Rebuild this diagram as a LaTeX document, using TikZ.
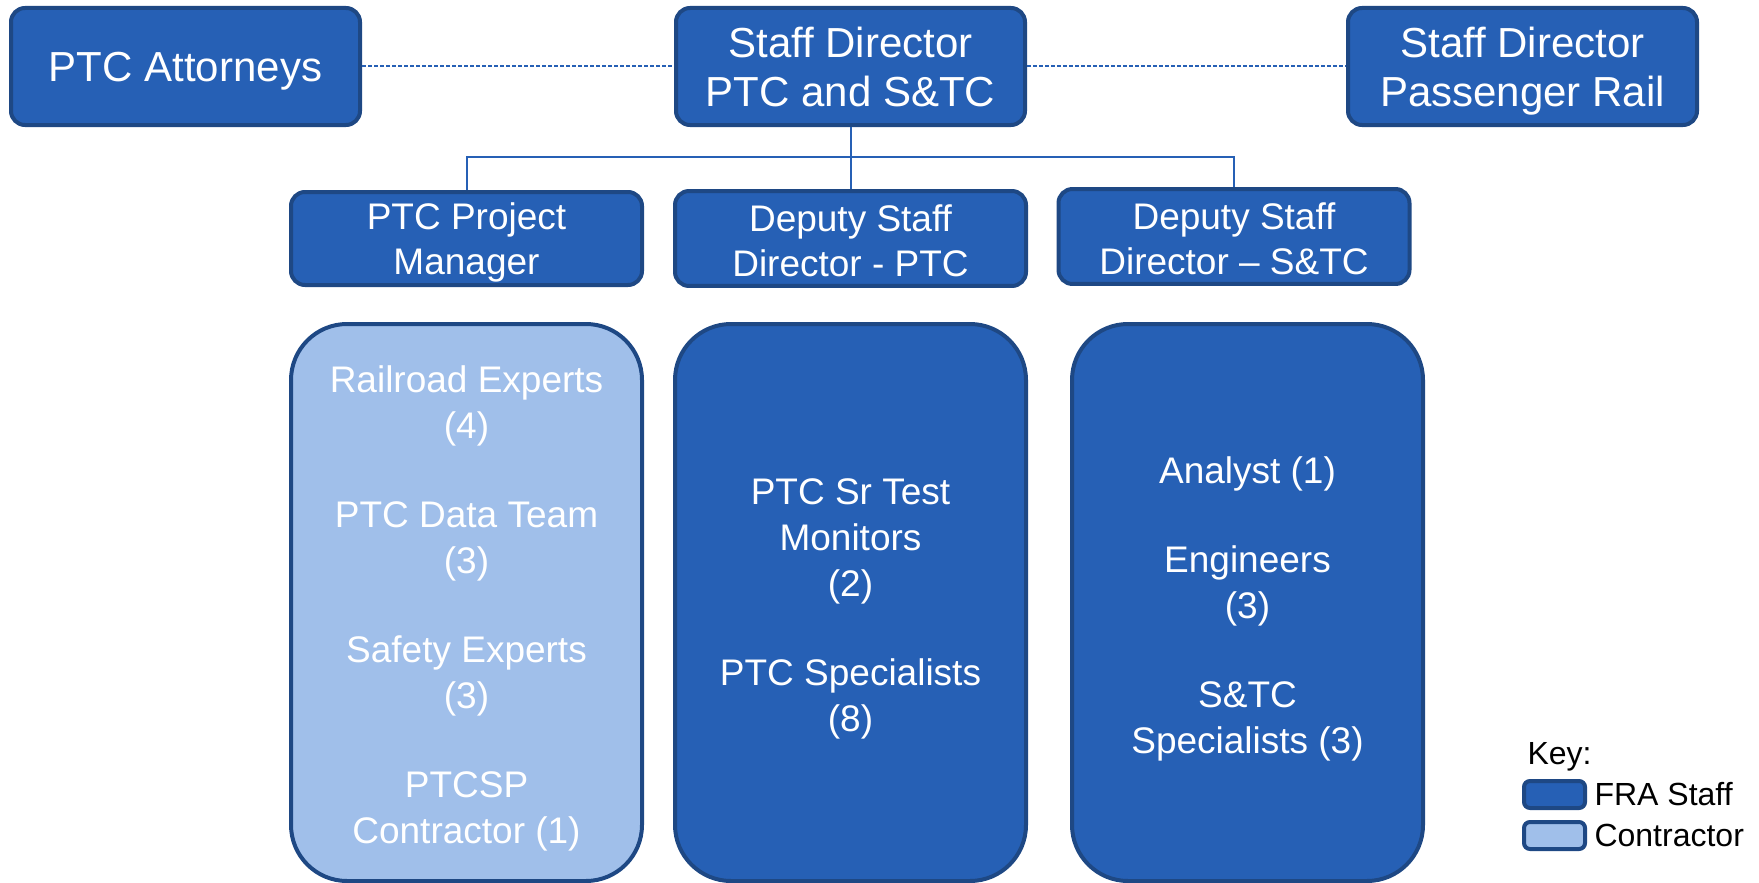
\documentclass[tikz,border=0pt]{standalone}
\usepackage{fontspec}
\setmainfont{Liberation Sans}
\usepackage{tikz}
\definecolor{frablue}{RGB}{38,96,181}
\definecolor{fraedge}{RGB}{30,72,132}
\definecolor{contrblue}{RGB}{160,191,234}
\newcommand\topstrut[1][1.1em]{\rule{0pt}{#1}}
\newcommand\botstrut{\rule[-0.25em]{0pt}{0pt}}

\begin{document}
\begin{tikzpicture}[x=1pt,y=-1pt,
	box/.style={rectangle,draw=fraedge,line width=4pt,fill=frablue,text=white,align=center,inner sep=0pt,
		execute at end node=\botstrut},
	head/.style={box,rounded corners=14pt,minimum width=349pt,minimum height=117pt,font=\fontsize{42}{49}\selectfont},
	sub/.style={box,rounded corners=14pt,minimum width=351pt,minimum height=93pt,font=\fontsize{37}{45}\selectfont},
	team/.style={box,rounded corners=56pt,minimum width=351pt,minimum height=557pt,font=\fontsize{37}{46}\selectfont},
	swatch/.style={box,rounded corners=6pt,minimum width=61pt,minimum height=27pt},
	link/.style={draw=frablue,line width=2pt},
	dotline/.style={draw=frablue,line width=2pt,dash pattern=on 4pt off 2pt}]
	\useasboundingbox (0,0) rectangle (1759,883);
	\draw
		(185.5,66.5) node[head](att) {\topstrut[0.96em]PTC Attorneys}
		(850.5,66.5) node[head](sdir) {\topstrut[0.98em]Staff Director\\PTC and S\&TC}
		(1522.5,66.5) node[head](pax) {\topstrut[0.98em]Staff Director\\Passenger Rail}
		(466.5,238.5) node[sub](pm) {\topstrut[1.0em]PTC Project\\Manager}
		(850.5,238.5) node[sub](dptc) {\topstrut Deputy Staff\\Director - PTC}
		(1234,236.5) node[sub](dstc) {\topstrut Deputy Staff\\Director -- S\&TC};
	\draw
		(466.5,602.5) node[team,fill=contrblue](cntr) {\topstrut Railroad Experts\\(4)\\[43pt]PTC Data Team\\(3)\\[43pt]Safety Experts\\(3)\\[43pt]PTCSP\\Contractor (1)}
		(850.5,602.5) node[team](mon) {\topstrut PTC Sr Test\\Monitors\\(2)\\[43pt]PTC Specialists\\(8)}
		(1247.5,602.5) node[team](spec) {\topstrut Analyst (1)\\[43pt]Engineers\\(3)\\[43pt]S\&TC\\Specialists (3)};
	\coordinate (bus) at (0,157);
	\draw[link] (sdir.south) -- (sdir.south |- bus);
	\draw[link] (pm.north) -- (pm.north |- bus) -- (dstc.north |- bus) -- (dstc.north);
	\draw[link] (dptc.north) -- (dptc.north |- bus);
	\draw[dotline] (att.east) -- (sdir.west);
	\draw[dotline] (sdir.east) -- (pax.west);
	% key
	\node[anchor=west,font=\fontsize{32}{38}\selectfont] (key) at (1524,757) {Key:};
	\node[swatch] (kstaff) at (1554.5,794.5) {};
	\node[swatch,fill=contrblue] (kcntr) at (1554.5,835.5) {};
	\node[anchor=west,font=\fontsize{32}{38}\selectfont] (lstaff) at (1591,794.5) {FRA Staff};
	\node[anchor=west,font=\fontsize{32}{38}\selectfont] (lcntr) at (1591,835.5) {Contractor};
\end{tikzpicture}
\end{document}
